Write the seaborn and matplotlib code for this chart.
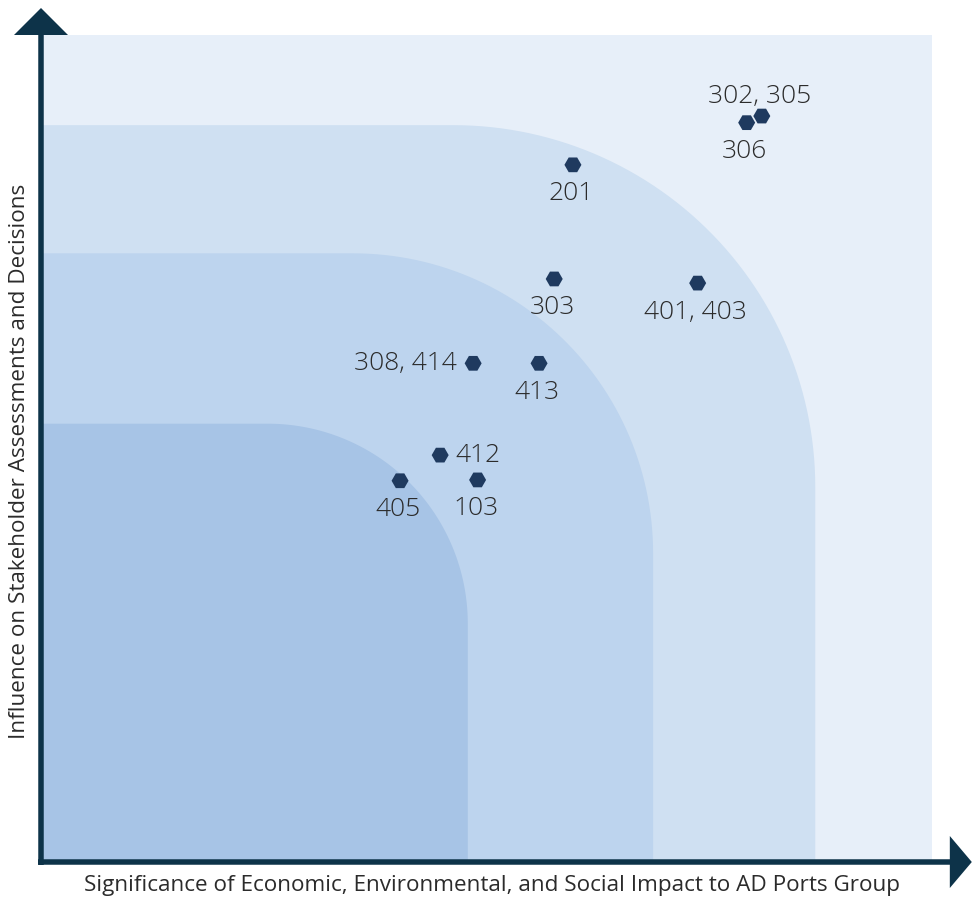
import numpy as np
import pandas as pd
import matplotlib
matplotlib.use("Agg")
import matplotlib.pyplot as plt
from matplotlib.patches import Polygon, Rectangle
import seaborn as sns

# Material topics: position on the significance / influence grid (0-10 scale)
topic_labels = ["302, 305", "306", "201", "303", "401, 403",
                "308, 414", "413", "412", "405", "103"]
significance = [8.09, 7.92, 5.97, 5.76, 7.37, 4.85, 5.59, 4.48, 4.03, 4.90]
influence = [9.02, 8.94, 8.43, 7.05, 7.00, 6.03, 6.03, 4.92, 4.61, 4.62]
label_side = ["above", "below", "below", "below", "below",
              "left", "below", "right", "below", "below"]

# Priority zones, innermost first: (extent on x, extent on y)
zone_x = [4.79, 6.87, 8.69]
zone_y = [5.30, 7.36, 8.91]

df = pd.DataFrame({"topic": topic_labels, "significance": significance,
                   "influence": influence, "side": label_side})

sns.set_theme(style="white")
plt.rcParams["font.family"] = ["Open Sans", "DejaVu Sans"]

W, H, DPI = 972, 900, 100
fig = plt.figure(figsize=(W / DPI, H / DPI), dpi=DPI, facecolor="white")
x0_px, y0_px, x1_px, y1_px = 41, 862, 932, 35
ax = fig.add_axes([x0_px / W, 1 - y0_px / H, (x1_px - x0_px) / W, (y0_px - y1_px) / H])
ax.set_xlim(0, 10)
ax.set_ylim(0, 10)
ax.set_axis_off()
px_x = (x1_px - x0_px) / 10.0   # pixels per unit on x
px_y = (y0_px - y1_px) / 10.0   # pixels per unit on y

# outer background
ax.add_patch(Rectangle((0, 0), 10, 10, facecolor="#e7eff9", edgecolor="none", zorder=0))

zone_colors = ["#a7c4e6", "#bdd4ee", "#cfe0f2"]
zone_radius_px = [200, 300, 362]


def rounded_zone(w, h, r_px):
    rx, ry = r_px / px_x, r_px / px_y
    t = np.linspace(0, np.pi / 2, 60)
    arc = np.column_stack([w - rx + rx * np.cos(t), h - ry + ry * np.sin(t)])
    pts = np.vstack([[0, 0], [w, 0], arc, [0, h]])
    return pts


for i in reversed(range(3)):
    ax.add_patch(Polygon(rounded_zone(zone_x[i], zone_y[i], zone_radius_px[i]),
                         closed=True, facecolor=zone_colors[i], edgecolor="none", zorder=1 + (2 - i)))

# topic markers
sns.scatterplot(data=df, x="significance", y="influence", marker="H", s=150,
                color="#1f3a5f", edgecolor="none", ax=ax, zorder=10, legend=False)

offsets = {"above": (-2, 20, "center", "center"),
           "below": (-2, -29, "center", "center"),
           "left": (-16, 0, "right", "center"),
           "right": (15, 0, "left", "center")}
label_font = dict(family=["Open Sans", "DejaVu Sans"], fontweight="light", fontsize=19, color="#2b2b2b")
for _, row in df.iterrows():
    dx, dy, ha, va = offsets[row["side"]]
    ax.annotate(row["topic"], (row["significance"], row["influence"]),
                xytext=(dx, dy), textcoords="offset pixels", ha=ha, va=va,
                zorder=11, **label_font)

# axes with arrow heads
axis_color = "#0d3349"
lw_pt = 5.5 * 72 / DPI
ax.plot([0, 0], [-3 / px_y, 10], color=axis_color, lw=lw_pt, solid_capstyle="butt",
        clip_on=False, zorder=12)
ax.plot([-3 / px_x, 10.2], [0, 0], color=axis_color, lw=lw_pt, solid_capstyle="butt",
        clip_on=False, zorder=12)
ax.add_patch(Polygon([[-27 / px_x, 10], [27 / px_x, 10], [0, 10 + 27 / px_y]], closed=True,
                     facecolor=axis_color, edgecolor="none", clip_on=False, zorder=12))
ax.add_patch(Polygon([[10.2, -26 / px_y], [10.2, 26 / px_y], [10.2 + 22 / px_x, 0]], closed=True,
                     facecolor=axis_color, edgecolor="none", clip_on=False, zorder=12))

title_font = dict(fontsize=16.2, color="#2b2b2b")
fig.text(492 / W, 1 - 885 / H, "Significance of Economic, Environmental, and Social Impact to AD Ports Group",
         ha="center", va="center", **title_font)
fig.text(20 / W, 1 - 461 / H, "Influence on Stakeholder Assessments and Decisions",
         ha="center", va="center", rotation=90, **title_font)

fig.savefig("out.png", dpi=DPI, facecolor="white")
